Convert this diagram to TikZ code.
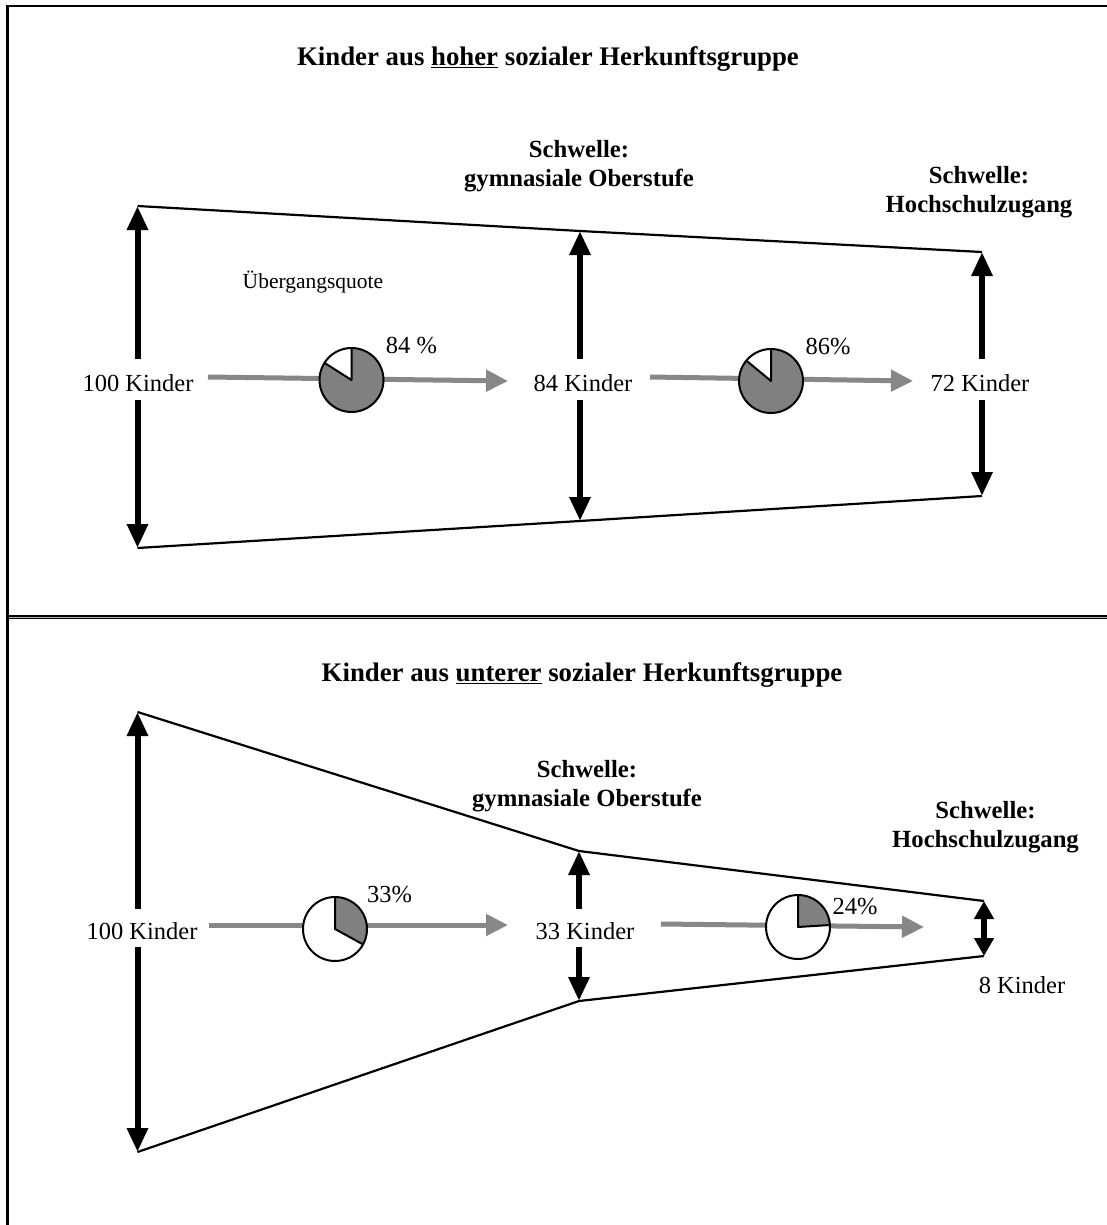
\documentclass[tikz,border=0pt]{standalone}
\usepackage{fontspec}
\setmainfont{Liberation Serif}
\usetikzlibrary{arrows.meta}
\definecolor{arrowgray}{RGB}{135,135,135}
\definecolor{piegray}{RGB}{128,128,128}
\begin{document}
\begin{tikzpicture}[x=1pt,y=-1pt,
  bigarrow/.style={line width=6pt,-{Triangle[length=24pt,width=20pt]}},
  smallarrow/.style={line width=6pt,{Triangle[length=18pt,width=19pt]}-{Triangle[length=18pt,width=19pt]}},
  grayarrow/.style={draw=arrowgray,line width=5pt,-{Triangle[length=22pt,width=21pt]}},
  funnel/.style={line width=2.2pt,line join=miter},
  pieline/.style={line width=2pt,line join=round},
  lbl/.style={font=\fontsize{24.5}{29}\selectfont,inner sep=0pt,text depth=0pt},
  small/.style={font=\fontsize{21.5}{26}\selectfont,inner sep=0pt,text depth=0pt},
  thr/.style={font=\fontsize{24.7}{29}\selectfont\bfseries,align=center,inner sep=0pt},
  ttl/.style={font=\fontsize{26.8}{32}\selectfont\bfseries,inner sep=0pt,text depth=0pt},
]
\useasboundingbox (0,0) rectangle (1106,1225);
\fill[white] (0,0) rectangle (1106,1225);

% frame
\draw[line width=2.5pt,line join=miter] (7.5,1226) -- (7.5,6) -- (1107,6);
\draw[line width=4.8pt] (6.5,617) -- (1107,617);
\draw[line width=0.8pt,gray!60] (9,617) -- (1107,617);

% ================= top panel =================
\coordinate (A1t) at (137.5,206); \coordinate (A1b) at (137.5,548);
\coordinate (A1u) at (137.5,359); \coordinate (A1d) at (137.5,400);
\coordinate (A2t) at (580,231);   \coordinate (A2b) at (580,521);
\coordinate (A2u) at (580,359);   \coordinate (A2d) at (580,400);
\coordinate (A3t) at (982,252);   \coordinate (A3b) at (982,496);
\coordinate (A3u) at (982,359);   \coordinate (A3d) at (982,400);

\draw[funnel] (A1t) -- (A2t) -- (A3t);
\draw[funnel] (A1b) -- (A2b) -- (A3b);

\draw[bigarrow] (A1u) -- (A1t);
\draw[bigarrow] (A1d) -- (A1b);
\draw[bigarrow] (A2u) -- (A2t);
\draw[bigarrow] (A2d) -- (A2b);
\draw[bigarrow] (A3u) -- (A3t);
\draw[bigarrow] (A3d) -- (A3b);

\coordinate (G1s) at (208,377); \coordinate (G1e) at (508,381);
\coordinate (G2s) at (650,377); \coordinate (G2e) at (913,381);
\draw[grayarrow] (G1s) -- (G1e);
\draw[grayarrow] (G2s) -- (G2e);

% pie 1 : 84 %
\begin{scope}[shift={(351.5,380)},y=1pt]
  \fill[white] (0,0) circle[radius=32];
  \fill[piegray] (0,0) -- (147.6:32) arc[start angle=147.6,end angle=450,radius=32] -- cycle;
  \draw[pieline] (0,0) circle[radius=32];
  \draw[pieline] (90:32) -- (0,0) -- (147.6:32);
\end{scope}
% pie 2 : 86 %
\begin{scope}[shift={(771,381)},y=1pt]
  \fill[white] (0,0) circle[radius=32];
  \fill[piegray] (0,0) -- (140.4:32) arc[start angle=140.4,end angle=450,radius=32] -- cycle;
  \draw[pieline] (0,0) circle[radius=32];
  \draw[pieline] (90:32) -- (0,0) -- (140.4:32);
\end{scope}

\node[ttl] (t1) at (548,56) {Kinder aus \underline{hoher} sozialer Herkunftsgruppe};
\node[thr] (s1) at (579,166) {Schwelle:\\gymnasiale Oberstufe};
\node[thr] (s2) at (979,192.5) {Schwelle:\\Hochschulzugang};
\node[small] (ue) at (313,280) {Übergangsquote};
\node[lbl] (L1) at (138,383) {100 Kinder};
\node[lbl] (L2) at (583,383) {84 Kinder};
\node[lbl] (L3) at (980,383) {72 Kinder};
\node[lbl] (q1) at (411.5,345) {84 \%};
\node[lbl] (q2) at (828,346) {86\%};

% ================= bottom panel =================
\coordinate (B1t) at (137.5,712); \coordinate (B1b) at (137.5,1152);
\coordinate (B1u) at (137.5,909); \coordinate (B1d) at (137.5,947);
\coordinate (B2t) at (579,851);   \coordinate (B2b) at (579,1001);
\coordinate (B2u) at (579,909);   \coordinate (B2d) at (579,947);
\coordinate (B3t) at (984,901);   \coordinate (B3b) at (984,956);

\draw[funnel] (B1t) -- (B2t) -- (B3t);
\draw[funnel] (B1b) -- (B2b) -- (B3b);

\draw[bigarrow] (B1u) -- (B1t);
\draw[bigarrow] (B1d) -- (B1b);
\draw[bigarrow] (B2u) -- (B2t);
\draw[bigarrow] (B2d) -- (B2b);
\draw[smallarrow] (B3t) -- (B3b);

\coordinate (H1s) at (209,925); \coordinate (H1e) at (508,925);
\coordinate (H2s) at (661,924); \coordinate (H2e) at (924,927);
\draw[grayarrow] (H1s) -- (H1e);
\draw[grayarrow] (H2s) -- (H2e);

% pie 3 : 33 %
\begin{scope}[shift={(335,929)},y=1pt]
  \fill[white] (0,0) circle[radius=32];
  \fill[piegray] (0,0) -- (-28.8:32) arc[start angle=-28.8,end angle=90,radius=32] -- cycle;
  \draw[pieline] (0,0) circle[radius=32];
  \draw[pieline] (90:32) -- (0,0) -- (-28.8:32);
\end{scope}
% pie 4 : 24 %
\begin{scope}[shift={(798,927)},y=1pt]
  \fill[white] (0,0) circle[radius=32];
  \fill[piegray] (0,0) -- (3.6:32) arc[start angle=3.6,end angle=90,radius=32] -- cycle;
  \draw[pieline] (0,0) circle[radius=32];
  \draw[pieline] (90:32) -- (0,0) -- (3.6:32);
\end{scope}

\node[ttl] (t2) at (582,672) {Kinder aus \underline{unterer} sozialer Herkunftsgruppe};
\node[thr] (s3) at (587,786) {Schwelle:\\gymnasiale Oberstufe};
\node[thr] (s4) at (985.5,827.5) {Schwelle:\\Hochschulzugang};
\node[lbl] (M1) at (142,931) {100 Kinder};
\node[lbl] (M2) at (585,931) {33 Kinder};
\node[lbl] (M3) at (1022,985) {8 Kinder};
\node[lbl] (r1) at (389.5,894) {33\%};
\node[lbl] (r2) at (855,906) {24\%};
\end{tikzpicture}
\end{document}
